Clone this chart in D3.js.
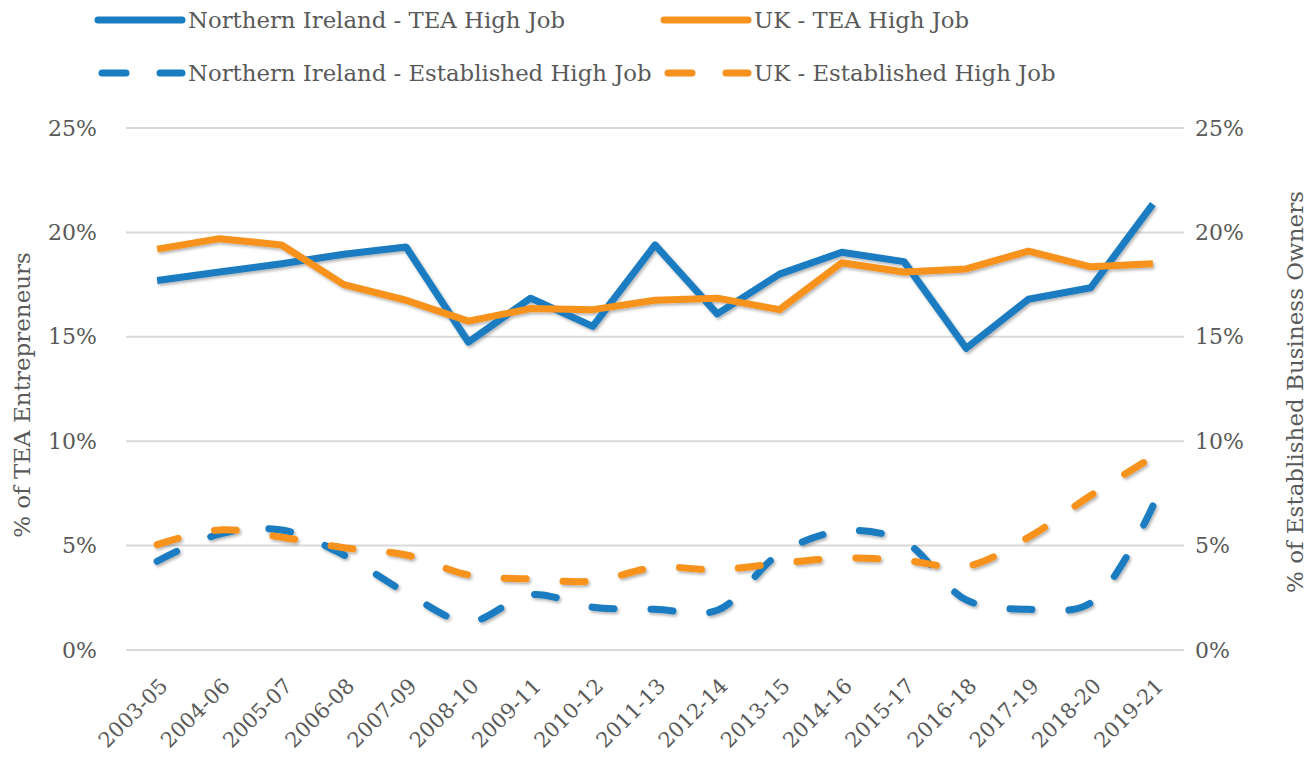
<!DOCTYPE html>
<html>
<head>
<meta charset="utf-8">
<script src="https://cdn.jsdelivr.net/npm/d3@7"></script>
<style>
  body { margin: 0; background: #fff; }
  svg text { font-family: "DejaVu Serif", "Liberation Serif", serif; fill: #595959; }
</style>
</head>
<body>
<div id="chart"></div>
<script>
// Chart data (percentages)
const periods = ['2003-05', '2004-06', '2005-07', '2006-08', '2007-09', '2008-10', '2009-11', '2010-12',
    '2011-13', '2012-14', '2013-15', '2014-16', '2015-17', '2016-18', '2017-19', '2018-20', '2019-21'];

const niTea = [17.7, 18.1, 18.5, 18.95, 19.3, 14.75, 16.85, 15.5, 19.4, 16.1, 18.0, 19.05, 18.6, 14.45, 16.8, 17.35, 21.35];
const ukTea = [19.2, 19.7, 19.4, 17.5, 16.75, 15.75, 16.35, 16.3, 16.75, 16.85, 16.3, 18.55, 18.1, 18.25, 19.1, 18.35, 18.5];
const niEst = [4.25, 5.55, 5.75, 4.55, 2.75, 1.35, 2.65, 2.05, 1.95, 1.9, 4.6, 5.7, 5.2, 2.4, 1.95, 2.25, 6.9];
const ukEst = [5.05, 5.75, 5.4, 4.9, 4.55, 3.6, 3.4, 3.3, 3.95, 3.85, 4.15, 4.4, 4.3, 4.0, 5.4, 7.4, 9.25];

const yTicks = [0, 5, 10, 15, 20, 25];

const series = [
    { name: 'Northern Ireland - TEA High Job', values: niTea, color: '#1a7cc1', dashed: false },
    { name: 'UK - TEA High Job', values: ukTea, color: '#f7921e', dashed: false },
    { name: 'Northern Ireland - Established High Job', values: niEst, color: '#1a7cc1', dashed: true },
    { name: 'UK - Established High Job', values: ukEst, color: '#f7921e', dashed: true }
];

const width = 1316, height = 758;
const plotLeft = 126, plotRight = 1184, plotTop = 128, plotBottom = 650;
const serif = '"DejaVu Serif", "Liberation Serif", serif';

const svg = d3.select('#chart').append('svg')
    .attr('width', width)
    .attr('height', height);

// soft shadow under the lines
const defs = svg.append('defs');
defs.append('filter')
    .attr('id', 'shadow')
    .attr('x', '-5%').attr('y', '-20%').attr('width', '110%').attr('height', '140%')
    .append('feDropShadow')
    .attr('dx', 1.5).attr('dy', 2).attr('stdDeviation', 1.5)
    .attr('flood-color', '#000').attr('flood-opacity', 0.3);

const x = d3.scalePoint().domain(periods).range([plotLeft, plotRight]).padding(0.5);
const y = d3.scaleLinear().domain([0, 25]).range([plotBottom, plotTop]);

// Gridlines
svg.append('g')
    .selectAll('line')
    .data(yTicks)
    .join('line')
    .attr('x1', plotLeft).attr('x2', plotRight)
    .attr('y1', d => y(d)).attr('y2', d => y(d))
    .attr('stroke', '#d9d9d9')
    .attr('stroke-width', 2);

// Left axis labels
const yAxisL = svg.append('g')
    .attr('transform', `translate(${plotLeft - 29},0)`)
    .call(d3.axisLeft(y).tickValues(yTicks).tickFormat(d => d + '%').tickSize(0));
yAxisL.select('.domain').remove();
yAxisL.selectAll('text')
    .attr('x', 0)
    .style('font-size', '22px')
    .style('font-family', serif)
    .attr('fill', '#595959');

// Right axis labels
const yAxisR = svg.append('g')
    .attr('transform', `translate(${plotRight + 11},0)`)
    .call(d3.axisRight(y).tickValues(yTicks).tickFormat(d => d + '%').tickSize(0));
yAxisR.select('.domain').remove();
yAxisR.selectAll('text')
    .attr('x', 0)
    .style('font-size', '22px')
    .style('font-family', serif)
    .attr('fill', '#595959');

// X axis labels
const xAxis = svg.append('g')
    .attr('transform', `translate(0,${plotBottom})`)
    .call(d3.axisBottom(x).tickSize(0));
xAxis.select('.domain').remove();
xAxis.selectAll('text')
    .attr('fill', '#595959')
    .style('font-size', '21px')
    .style('font-family', serif)
    .attr('text-anchor', 'end')
    .attr('dy', '0.35em')
    .attr('transform', 'translate(4,30) rotate(-45)');

// Axis titles
svg.append('text')
    .attr('transform', `translate(22,${(plotTop + plotBottom) / 2 + 6}) rotate(-90)`)
    .attr('text-anchor', 'middle')
    .attr('dominant-baseline', 'central')
    .style('font-size', '23px')
    .style('font-family', serif)
    .text('% of TEA Entrepreneurs');

svg.append('text')
    .attr('transform', `translate(1295,${(plotTop + plotBottom) / 2 + 3}) rotate(-90)`)
    .attr('text-anchor', 'middle')
    .attr('dominant-baseline', 'central')
    .style('font-size', '23px')
    .style('font-family', serif)
    .text('% of Established Business Owners');

// Lines
const solidLine = d3.line()
    .x((d, i) => x(periods[i]))
    .y(d => y(d));

const smoothLine = d3.line()
    .x((d, i) => x(periods[i]))
    .y(d => y(d))
    .curve(d3.curveCatmullRom.alpha(0.5));

const dashPattern = '22,37';

svg.append('g')
    .attr('filter', 'url(#shadow)')
    .selectAll('path')
    .data(series)
    .join('path')
    .attr('d', d => d.dashed ? smoothLine(d.values) : solidLine(d.values))
    .attr('fill', 'none')
    .attr('stroke', d => d.color)
    .attr('stroke-width', 7)
    .attr('stroke-linecap', d => d.dashed ? 'round' : 'butt')
    .attr('stroke-linejoin', 'round')
    .attr('stroke-dasharray', d => d.dashed ? dashPattern : null);

// Legend
const legendPos = [
    { lx: 98, ty: 20 },
    { lx: 664, ty: 20 },
    { lx: 98, ty: 73 },
    { lx: 664, ty: 73 }
];

const legend = svg.append('g')
    .selectAll('g')
    .data(series)
    .join('g')
    .attr('transform', (d, i) => `translate(${legendPos[i].lx},${legendPos[i].ty})`);

legend.append('line')
    .attr('x1', d => d.dashed ? 4 : 0)
    .attr('x2', 84)
    .attr('y1', 0).attr('y2', 0)
    .attr('stroke', d => d.color)
    .attr('stroke-width', 7)
    .attr('stroke-linecap', 'round')
    .attr('stroke-dasharray', d => d.dashed ? '24,34' : null);

legend.append('text')
    .attr('x', 90)
    .attr('y', 0)
    .attr('dominant-baseline', 'central')
    .style('font-size', '22.8px')
    .style('font-family', serif)
    .text(d => d.name);
</script>
</body>
</html>
